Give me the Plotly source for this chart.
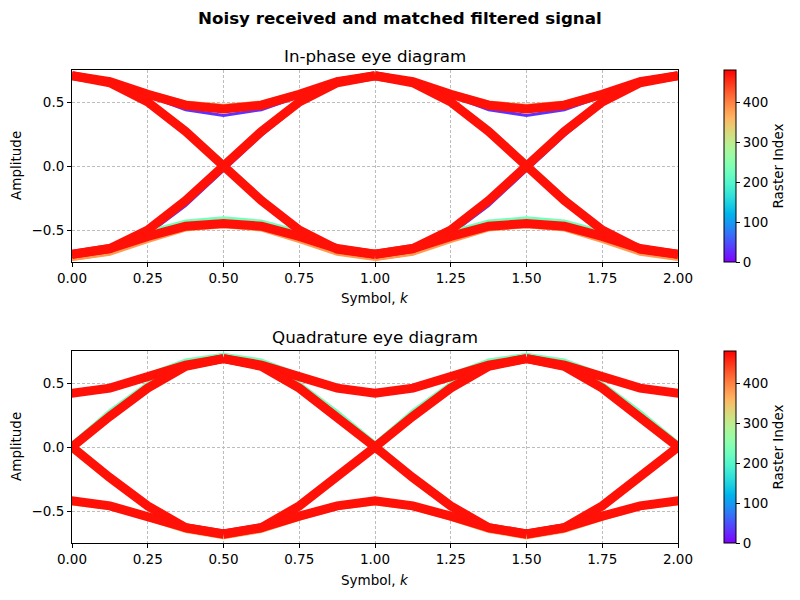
import math
import plotly.graph_objects as go

# ---------------- data ----------------
SEG_OFFSETS = [0.0, 0.125, 0.25, 0.375, 0.5, 0.625, 0.75, 0.875, 1.0]
I_SEG_STARTS = [0.0, 1.0]          # in-phase symbol intervals
Q_SEG_STARTS = [-0.5, 0.5, 1.5]    # quadrature symbol intervals (half-symbol shift)

LAYER_INDEX = {"early": 30, "mid": 230, "late": 380, "final": 470}

# In-phase segments (symbol -> symbol), per raster layer
I_early_HH = [0.72, 0.67, 0.55, 0.44, 0.395, 0.44, 0.545, 0.68, 0.72]
I_early_HL = [0.72, 0.66, 0.50, 0.26, -0.01, -0.28, -0.51, -0.66, -0.72]
I_early_LH = [-0.72, -0.66, -0.53, -0.31, -0.035, 0.24, 0.48, 0.64, 0.72]
I_early_LL = [-0.71, -0.65, -0.55, -0.47, -0.45, -0.47, -0.55, -0.65, -0.71]

I_mid_HH = [0.685, 0.64, 0.55, 0.47, 0.44, 0.47, 0.55, 0.65, 0.685]
I_mid_HL = [0.70, 0.64, 0.52, 0.30, 0.03, -0.24, -0.48, -0.64, -0.70]
I_mid_LH = [-0.70, -0.64, -0.50, -0.27, 0.00, 0.27, 0.50, 0.64, 0.70]
I_mid_LL = [-0.70, -0.64, -0.51, -0.43, -0.405, -0.43, -0.51, -0.64, -0.70]

I_late_HH = [0.72, 0.67, 0.58, 0.50, 0.475, 0.50, 0.58, 0.67, 0.72]
I_late_HL = [0.72, 0.66, 0.51, 0.27, 0.00, -0.27, -0.51, -0.66, -0.72]
I_late_LH = [-0.73, -0.685, -0.53, -0.28, 0.00, 0.27, 0.50, 0.66, 0.72]
I_late_LL = [-0.73, -0.69, -0.59, -0.50, -0.475, -0.50, -0.59, -0.69, -0.73]

I_final_HH = [0.705, 0.66, 0.56, 0.475, 0.445, 0.475, 0.56, 0.66, 0.705]
I_final_HL = [0.705, 0.65, 0.50, 0.27, 0.00, -0.27, -0.50, -0.65, -0.69]
I_final_LH = [-0.69, -0.645, -0.50, -0.27, 0.00, 0.27, 0.50, 0.65, 0.705]
I_final_LL = [-0.69, -0.645, -0.55, -0.47, -0.45, -0.47, -0.55, -0.645, -0.69]

# Quadrature segments (symbol -> symbol), per raster layer
Q_early_HH = [0.69, 0.64, 0.55, 0.46, 0.42, 0.46, 0.55, 0.64, 0.69]
Q_early_HL = [0.69, 0.63, 0.46, 0.24, 0.00, -0.24, -0.45, -0.61, -0.66]
Q_early_LH = [-0.66, -0.61, -0.45, -0.22, 0.01, 0.24, 0.46, 0.63, 0.69]
Q_early_LL = [-0.66, -0.61, -0.52, -0.45, -0.42, -0.46, -0.54, -0.63, -0.68]

Q_mid_HH = [0.725, 0.68, 0.57, 0.46, 0.42, 0.46, 0.57, 0.68, 0.725]
Q_mid_HL = [0.725, 0.66, 0.50, 0.28, 0.035, -0.22, -0.45, -0.62, -0.68]
Q_mid_LH = [-0.68, -0.62, -0.45, -0.21, 0.03, 0.285, 0.50, 0.66, 0.725]
Q_mid_LL = [-0.69, -0.65, -0.56, -0.47, -0.43, -0.47, -0.56, -0.65, -0.69]

Q_late_HH = [0.67, 0.62, 0.53, 0.45, 0.41, 0.45, 0.53, 0.62, 0.67]
Q_late_HL = [0.67, 0.61, 0.45, 0.23, -0.01, -0.25, -0.48, -0.65, -0.71]
Q_late_LH = [-0.71, -0.65, -0.48, -0.25, -0.01, 0.23, 0.45, 0.61, 0.67]
Q_late_LL = [-0.71, -0.66, -0.565, -0.48, -0.445, -0.48, -0.565, -0.66, -0.71]

Q_final_HH = [0.69, 0.64, 0.55, 0.46, 0.42, 0.46, 0.55, 0.64, 0.69]
Q_final_HL = [0.69, 0.63, 0.46, 0.24, 0.00, -0.24, -0.46, -0.63, -0.68]
Q_final_LH = [-0.68, -0.63, -0.46, -0.24, 0.00, 0.24, 0.46, 0.63, 0.69]
Q_final_LL = [-0.68, -0.63, -0.54, -0.46, -0.42, -0.46, -0.54, -0.63, -0.68]

I_LAYERS = {
    "early": [I_early_HH, I_early_HL, I_early_LH, I_early_LL],
    "mid": [I_mid_HH, I_mid_HL, I_mid_LH, I_mid_LL],
    "late": [I_late_HH, I_late_HL, I_late_LH, I_late_LL],
    "final": [I_final_HH, I_final_HL, I_final_LH, I_final_LL],
}
Q_LAYERS = {
    "early": [Q_early_HH, Q_early_HL, Q_early_LH, Q_early_LL],
    "mid": [Q_mid_HH, Q_mid_HL, Q_mid_LH, Q_mid_LL],
    "late": [Q_late_HH, Q_late_HL, Q_late_LH, Q_late_LL],
    "final": [Q_final_HH, Q_final_HL, Q_final_LH, Q_final_LL],
}

X_TICKS = [0.0, 0.25, 0.5, 0.75, 1.0, 1.25, 1.5, 1.75, 2.0]
Y_TICKS = [-0.5, 0.0, 0.5]
CBAR_TICKS = [0, 100, 200, 300, 400]
RASTER_MAX = 480


# ---------------- helpers ----------------
def rainbow(t):
    r = min(1.0, abs(2 * t - 0.5))
    g = math.sin(math.pi * t)
    b = math.cos(math.pi * t / 2)
    return "rgb(%d,%d,%d)" % (round(255 * r), round(255 * max(g, 0)), round(255 * max(b, 0)))


COLORSCALE = [[i / 20, rainbow(i / 20)] for i in range(21)]
LAYER_WIDTH = {"early": 3, "mid": 3, "late": 3, "final": 9}
FONT = "DejaVu Sans"

ML, MR = 10, 30
PW = 800 - ML - MR


def fx(px):
    return (px - ML) / PW


def fy(py):
    return 1 - py / 600


fig = go.Figure()


def add_layers(layers, starts, xaxis, yaxis):
    for name in ["early", "mid", "late", "final"]:
        xs, ys = [], []
        for seg in layers[name]:
            for s in starts:
                xs += [s + o for o in SEG_OFFSETS] + [None]
                ys += list(seg) + [None]
        fig.add_trace(go.Scatter(
            x=xs, y=ys, mode="lines", xaxis=xaxis, yaxis=yaxis,
            line=dict(color=rainbow(LAYER_INDEX[name] / RASTER_MAX),
                      width=LAYER_WIDTH[name]),
            showlegend=False, hoverinfo="skip"))


add_layers(I_LAYERS, I_SEG_STARTS, "x", "y")
add_layers(Q_LAYERS, Q_SEG_STARTS, "x2", "y2")

# dummy traces carrying the two colorbars
for ca, xa, ya in [("coloraxis", "x", "y"), ("coloraxis2", "x2", "y2")]:
    fig.add_trace(go.Scatter(
        x=[-5, -5], y=[0, 0], mode="markers", xaxis=xa, yaxis=ya,
        marker=dict(color=[0, RASTER_MAX], coloraxis=ca, size=1),
        showlegend=False, hoverinfo="skip"))

axis_common = dict(
    range=[0, 2], tickvals=X_TICKS, tickformat=".2f", automargin=False,
    showline=True, linecolor="black", linewidth=1, mirror=True,
    ticks="outside", ticklen=4, tickcolor="black", tickwidth=1,
    showgrid=True, gridcolor="#bdbdbd", griddash="3px,2px", gridwidth=0.9,
    zeroline=False, tickfont=dict(size=13.5, color="black", family=FONT),
)
yaxis_common = dict(axis_common)
yaxis_common.update(range=[-0.75, 0.75], tickvals=Y_TICKS, tickformat=".1f")

DX = [fx(72), fx(678)]
fig.update_layout(
    width=800, height=600,
    margin=dict(l=ML, r=MR, t=0, b=0),
    paper_bgcolor="white", plot_bgcolor="white",
    font=dict(family=FONT, color="black"),
    xaxis=dict(axis_common, domain=DX, anchor="y"),
    yaxis=dict(yaxis_common, domain=[fy(262), fy(70)], anchor="x"),
    xaxis2=dict(axis_common, domain=DX, anchor="y2"),
    yaxis2=dict(yaxis_common, domain=[fy(543), fy(351)], anchor="x2"),
)

cb_common = dict(
    thickness=12, thicknessmode="pixels", len=192, lenmode="pixels",
    x=fx(724), xanchor="left", yanchor="middle", xpad=0, ypad=0,
    outlinewidth=1, outlinecolor="black",
    tickvals=CBAR_TICKS, ticks="outside", ticklen=4, tickcolor="black",
    tickfont=dict(size=13.5, family=FONT, color="black"),
    title=dict(text="Raster Index", side="right", font=dict(size=13.5, family=FONT)),
)
fig.update_layout(
    coloraxis=dict(colorscale=COLORSCALE, cmin=0, cmax=RASTER_MAX,
                   colorbar=dict(cb_common, y=fy(166))),
    coloraxis2=dict(colorscale=COLORSCALE, cmin=0, cmax=RASTER_MAX,
                    colorbar=dict(cb_common, y=fy(447))),
)

ann = []
ann.append(dict(text="<b>Noisy received and matched filtered signal</b>", x=fx(400), y=fy(18),
                xref="paper", yref="paper", showarrow=False, font=dict(size=16.7, family=FONT),
                xanchor="center", yanchor="middle"))
for txt, ypx in [("In-phase eye diagram", 56), ("Quadrature eye diagram", 337)]:
    ann.append(dict(text=txt, x=fx(375), y=fy(ypx), xref="paper", yref="paper",
                    showarrow=False, font=dict(size=16.7, family=FONT),
                    xanchor="center", yanchor="middle"))
for ypx in [298, 580]:
    ann.append(dict(text="Symbol, <i>k</i>", x=fx(375), y=fy(ypx), xref="paper",
                    yref="paper", showarrow=False, font=dict(size=13.5, family=FONT),
                    xanchor="center", yanchor="middle"))
for ypx in [166, 447]:
    ann.append(dict(text="Amplitude", x=fx(16), y=fy(ypx), xref="paper", yref="paper",
                    showarrow=False, textangle=-90, font=dict(size=13.5, family=FONT),
                    xanchor="center", yanchor="middle"))
fig.update_layout(annotations=ann)

fig.write_html("out.html")
